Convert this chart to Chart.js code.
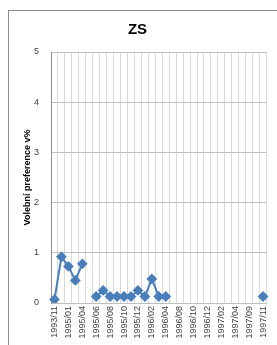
<!DOCTYPE html>
<html>
<head>
<meta charset="utf-8">
<script src="https://cdn.jsdelivr.net/npm/chart.js@4/dist/chart.umd.min.js"></script>
<style>
  html, body { margin: 0; padding: 0; overflow: hidden; background: #fff; }
  #frame { position: absolute; left: 8px; top: 10px; width: 320px; height: 400px; border: 1px solid #8c8c8c; }
  #wrap { position: absolute; left: 0; top: 0; width: 277px; height: 345px; }
</style>
</head>
<body>
<div id="frame"></div>
<div id="wrap"><canvas id="Chart"></canvas></div>
<script>
let months = ['1993/11','1994/06','1995/01','1995/03','1995/04','1995/05','1995/06','1995/07','1995/08','1995/09',
    '1995/10','1995/11','1995/12','1996/01','1996/02','1996/03','1996/04','1996/06','1996/08','1996/09',
    '1996/10','1996/11','1996/12','1997/01','1997/02','1997/03','1997/04','1997/06','1997/09','1997/10','1997/11'];

let zsValues = [0.07, 0.92, 0.73, 0.45, 0.78, null, 0.13, 0.25, 0.13, 0.13,
    0.13, 0.13, 0.25, 0.13, 0.48, 0.13, 0.13, null, null, null,
    null, null, null, null, null, null, null, null, null, null, 0.13];

let yTicks = [0, 1, 2, 3, 4, 5];

let graph = document.getElementById('Chart');

let chartData = {
    type: 'line',
    data: {
        labels: months,
        datasets: [{
            label: 'ZS',
            data: zsValues,
            borderColor: '#4a7ebb',
            backgroundColor: '#4a7ebb',
            borderWidth: 2,
            pointStyle: 'rectRot',
            pointRadius: 4,
            pointHoverRadius: 4,
            spanGaps: false,
            tension: 0
        }]
    },
    options: {
        responsive: true,
        maintainAspectRatio: false,
        animation: false,
        layout: { padding: { left: 0, right: 2, top: 0, bottom: 0 } },
        plugins: {
            legend: { display: false },
            tooltip: { enabled: false },
            title: {
                display: true,
                text: 'ZS',
                color: '#000',
                font: { family: 'Liberation Sans', size: 15, weight: 'bold' },
                padding: { top: 21, bottom: 13 }
            }
        },
        scales: {
            x: {
                offset: true,
                grid: { color: '#d9d9d9', offset: true, drawTicks: false },
                border: { color: '#bfbfbf' },
                ticks: {
                    autoSkip: false,
                    maxRotation: 90,
                    minRotation: 90,
                    padding: 3,
                    color: '#404040',
                    font: { family: 'Liberation Sans', size: 9 },
                    callback: (v, i) => i % 2 === 0 ? months[i] : ''
                },
                afterFit: s => { s.height = 42; }
            },
            y: {
                min: 0,
                max: 5,
                afterBuildTicks: s => { s.ticks = yTicks.map(v => ({ value: v })); },
                grid: { color: '#bfbfbf', drawTicks: false },
                border: { color: '#8c8c8c' },
                ticks: {
                    padding: 12,
                    color: '#404040',
                    font: { family: 'Liberation Sans', size: 9 }
                },
                title: {
                    display: true,
                    text: 'Volební preference v%',
                    color: '#000',
                    font: { family: 'Liberation Sans', size: 9, weight: 'bold' },
                    padding: { top: 22, bottom: 0 }
                },
                afterFit: s => { s.width = 51; }
            }
        }
    }
};

let presentdata = new Chart(graph, chartData);
</script>
</body>
</html>
